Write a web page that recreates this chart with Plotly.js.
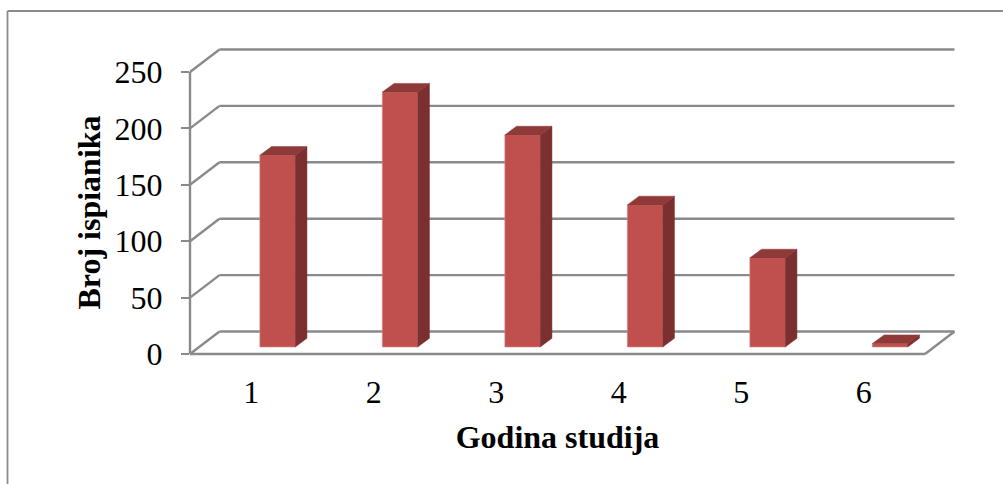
<!DOCTYPE html>
<html>
<head>
<meta charset="utf-8">
<script src="https://cdn.plot.ly/plotly-3.0.1.min.js"></script>
<style>html,body{margin:0;padding:0;background:#fff}</style>
</head>
<body>
<div id="chart" style="width:1003px;height:484px"></div>
<script>
const categories = [1, 2, 3, 4, 5, 6];
const values = [170, 226, 188, 126, 79, 3];
const yTicks = [0, 50, 100, 150, 200, 250];
const xTitle = "Godina studija";
const yTitle = "Broj ispianika";

const W = 1003, H = 484;
const M = {l: 190, r: 78, t: 48, b: 107};
const PW = W - M.l - M.r, PH = H - M.t - M.b;
const xRange = [0.5, 6.5];
const yRange = [-20.4, 271.3];

// Oblique projection offsets, in data units
const wallDX = 0.2407, wallDY = 19.95;
const barDX = 0.0955, barDY = 7.7;
const barShift = 0.2146, barW = 0.289, barBase = 6.2;

const GRID = "#8a8a8a", FRONT = "#C0504D", TOPC = "#8E3A38", SIDE = "#7B2F2E";

const toPaperX = x => (x - xRange[0]) / (xRange[1] - xRange[0]);
const pxX = p => (p - M.l) / PW;
const pxY = p => 1 - (p - M.t) / PH;

const shapes = [];
const line = {color: GRID, width: 2.4};
function seg(x0, y0, x1, y1) {
  shapes.push({type: "line", layer: "below", xref: "paper", yref: "y",
    x0: toPaperX(x0), y0, x1: toPaperX(x1), y1, line});
}
yTicks.forEach(t => {
  seg(xRange[0], t, xRange[0] + wallDX, t + wallDY);
  seg(xRange[0] + wallDX, t + wallDY, xRange[1] + wallDX, t + wallDY);
});
seg(xRange[0], 0, xRange[0], yTicks[yTicks.length - 1]);
seg(xRange[0], 0, xRange[1], 0);
seg(xRange[1], 0, xRange[1] + wallDX, wallDY);

// Outer chart frame
const frame = {color: "#8c8c8c", width: 1.8};
shapes.push({type: "line", xref: "paper", yref: "paper", layer: "below",
  x0: pxX(7.5), x1: pxX(7.5), y0: pxY(11), y1: pxY(484), line: frame});
shapes.push({type: "line", xref: "paper", yref: "paper", layer: "below",
  x0: pxX(7.5), x1: pxX(1003), y0: pxY(11), y1: pxY(11), line: frame});

const topX = [], topY = [], sideX = [], sideY = [];
categories.forEach((c, i) => {
  const xl = c + barShift - barW / 2, xr = c + barShift + barW / 2;
  const yb = barBase, yt = barBase + values[i];
  topX.push(xl, xr, xr + barDX, xl + barDX, xl, null);
  topY.push(yt, yt, yt + barDY, yt + barDY, yt, null);
  sideX.push(xr, xr + barDX, xr + barDX, xr, xr, null);
  sideY.push(yb, yb + barDY, yt + barDY, yt, yb, null);
});

const traces = [
  {type: "bar", x: categories.map(c => c + barShift), y: values, base: barBase,
   width: barW, marker: {color: FRONT, line: {color: "#D98A87", width: 0.6}}, hoverinfo: "skip"},
  {type: "scatter", mode: "lines", x: sideX, y: sideY, fill: "toself", fillcolor: SIDE,
   line: {color: SIDE, width: 0.5}, hoverinfo: "skip"},
  {type: "scatter", mode: "lines", x: topX, y: topY, fill: "toself", fillcolor: TOPC,
   line: {color: TOPC, width: 0.5}, hoverinfo: "skip"}
];

const font = {family: "Liberation Serif, Times New Roman, serif", color: "#000", size: 32};
const layout = {
  width: W, height: H, margin: M, showlegend: false,
  paper_bgcolor: "#fff", plot_bgcolor: "#fff", font, hovermode: false,
  bargap: 0, shapes,
  xaxis: {
    range: xRange, tickmode: "array", tickvals: categories, ticktext: categories.map(String),
    showgrid: false, zeroline: false, showline: false, ticks: "", tickfont: font,
    ticklabelstandoff: -7,
    title: {text: "<b>" + xTitle + "</b>", font, standoff: 16}
  },
  yaxis: {
    range: yRange, tickmode: "array", tickvals: yTicks, ticktext: yTicks.map(String),
    showgrid: false, zeroline: false, showline: false,
    ticks: "outside", ticklen: 8, tickwidth: 2, tickcolor: GRID, tickfont: font,
    ticklabelstandoff: 12,
    title: {text: "<b>" + yTitle + "</b>", font, standoff: 4}
  }
};
Plotly.newPlot("chart", traces, layout, {staticPlot: true, displayModeBar: false});
</script>
</body>
</html>
